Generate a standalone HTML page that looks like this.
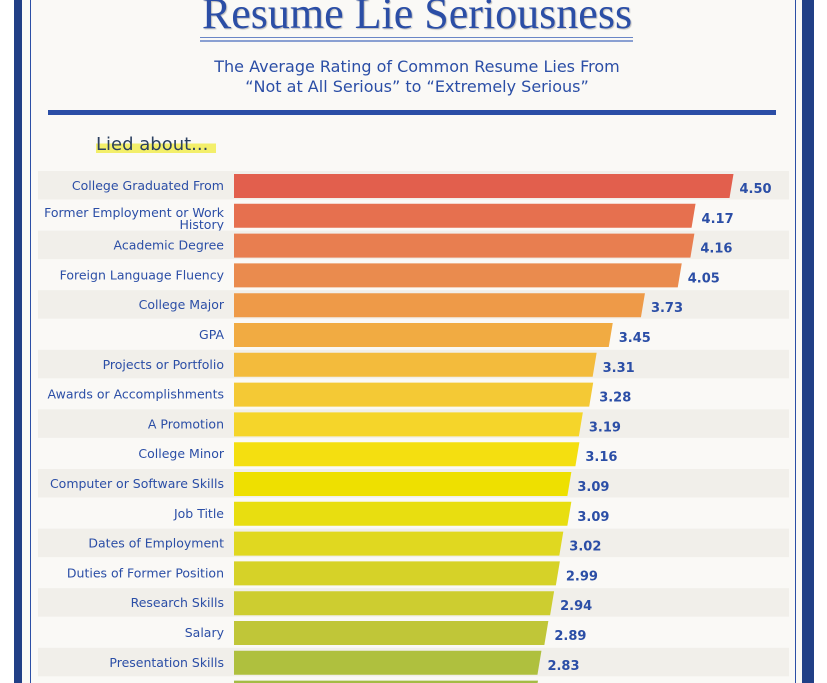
<!DOCTYPE html>
<html><head><meta charset="utf-8"><style>
body{margin:0;width:827px;height:683px;overflow:hidden;background:#fff;position:relative;font-family:"DejaVu Sans","Liberation Sans",sans-serif}
.a{position:absolute}
</style></head><body>
<div class="a" style="left:14px;top:0;width:8px;height:683px;background:#213f86"></div>
<div class="a" style="left:802px;top:0;width:12px;height:683px;background:#213f86"></div>
<div class="a" style="left:22px;top:0;width:780px;height:683px;background:#faf9f6"></div>
<div class="a" style="left:30px;top:0;width:1px;height:683px;background:#2c4fa6"></div>
<div class="a" style="left:795px;top:0;width:1px;height:683px;background:#2c4fa6"></div>
<div class="a" style="left:120px;width:594px;top:-12px;text-align:center;font:44px 'Liberation Serif',serif;color:#2b4ea6;text-shadow:1px 1px 1px #bbb">Resume Lie Seriousness</div>
<div class="a" style="left:200px;top:37px;width:433px;height:1px;background:#6a86c6"></div>
<div class="a" style="left:200px;top:40px;width:433px;height:2px;background:#8aa0d2"></div>
<div class="a" style="left:100px;width:634px;top:57px;text-align:center;font:16px/20px 'DejaVu Sans',sans-serif;color:#2b4ea6">The Average Rating of Common Resume Lies From<br>“Not at All Serious” to “Extremely Serious”</div>
<div class="a" style="left:48px;top:110px;width:728px;height:5px;background:#2b4ea6"></div>
<div class="a" style="left:96px;top:134px;font:18px 'DejaVu Sans',sans-serif;color:#2b4060;background:linear-gradient(transparent 45%,#f3ef6a 45%,#f3ef6a 90%,transparent 90%);padding-right:8px">Lied about...</div>
<svg id="chart" class="a" style="left:0;top:0" width="827" height="683"></svg>
<script>
const categories=["College Graduated From","Former Employment or Work History","Academic Degree","Foreign Language Fluency","College Major","GPA","Projects or Portfolio","Awards or Accomplishments","A Promotion","College Minor","Computer or Software Skills","Job Title","Dates of Employment","Duties of Former Position","Research Skills","Salary","Presentation Skills","Membership in Clubs"];
const values=[4.50,4.17,4.16,4.05,3.73,3.45,3.31,3.28,3.19,3.16,3.09,3.09,3.02,2.99,2.94,2.89,2.83,2.80];
const labels=["4.50","4.17","4.16","4.05","3.73","3.45","3.31","3.28","3.19","3.16","3.09","3.09","3.02","2.99","2.94","2.89","2.83","2.80"];
const colors=["#e25f4d","#e6704f","#e87e50","#ea8b4e","#ee9a48","#f1ab42","#f3bb3c","#f4c935","#f5d52a","#f4df10","#eee000","#e8de10","#e0d820","#d6d228","#cdcd30","#c0c638","#afc03e","#a4bb44"];
const svg=document.getElementById('chart');const NS='http://www.w3.org/2000/svg';
const x0=234,xs=v=>216+115*v,rowY=i=>171+29.8*i;
categories.forEach((c,i)=>{
 const y=rowY(i);
 if(i%2==0){const b=document.createElementNS(NS,'rect');b.setAttribute('x',38);b.setAttribute('y',y);b.setAttribute('width',751);b.setAttribute('height',28.5);b.setAttribute('fill','#f1efea');
 
 svg.appendChild(b);}
 const xe=xs(values[i]);
 const p=document.createElementNS(NS,'polygon');
 p.setAttribute('points',`${x0},${y+3} ${xe},${y+3} ${xe-4},${y+27} ${x0},${y+27}`);p.setAttribute('fill',colors[i]);
 
 svg.appendChild(p);
 const t=document.createElementNS(NS,'text');t.setAttribute('x',xe+6);t.setAttribute('y',y+22);t.setAttribute('font-size','13');t.setAttribute('font-weight','bold');t.setAttribute('fill','#2b4ea6');t.setAttribute('font-family','DejaVu Sans, sans-serif');t.textContent=labels[i];
 
 svg.appendChild(t);
 const parts=c==="Former Employment or Work History"?["Former Employment or Work","History"]:[c];
 parts.forEach((s,k)=>{const l=document.createElementNS(NS,'text');l.setAttribute('x',224);l.setAttribute('y',parts.length>1?y+16+k*12:y+19);l.setAttribute('text-anchor','end');l.setAttribute('font-size','12.5');l.setAttribute('fill','#2b4ea6');l.setAttribute('font-family','DejaVu Sans, sans-serif');l.textContent=s;
 
 svg.appendChild(l);});
});
</script>
</body></html>
